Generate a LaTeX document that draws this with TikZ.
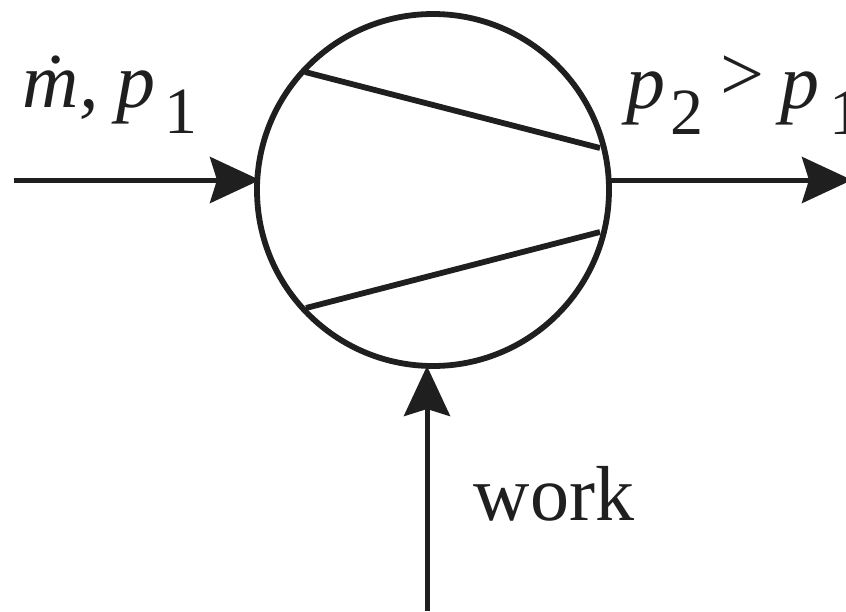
\documentclass[tikz,border=0pt]{standalone}
\usepackage{fontspec}
\setmainfont{Liberation Serif}
\usetikzlibrary{arrows.meta}
\newcommand{\subidx}[1]{\raisebox{-26pt}{\upshape\fontsize{66}{66}\selectfont #1}}
\begin{document}
\begin{tikzpicture}[
    x=1pt,y=-1pt,
    line join=round,
    line width=5.8pt,
    color=black!88,
    flow/.style={line width=5pt,-{Stealth[length=50pt,width=46pt,inset=7pt]},shorten >=-1pt},
    lbl/.style={inner sep=0pt,font=\fontsize{78}{78}\selectfont}
]
    \useasboundingbox (0,0) rectangle (846,611);
    \clip (0,0) rectangle (846,611);

    % compressor
    \coordinate (C) at (433,190);
    \node[circle,draw,minimum size=352pt,inner sep=0pt] (comp) at (C) {};
    \coordinate (inlet) at (14,180);
    \coordinate (outlet) at (851,180);
    \coordinate (shaft) at (427,611);

    % inner lines
    \draw (305,72) -- (600,148);
    \draw (306,308) -- (600,232);

    % flows
    \draw[flow] (inlet) -- (259,180);
    \draw[flow] (609,180) -- (outlet);
    \draw[flow] (shaft) -- (427,367);

    % labels
    \node[lbl,anchor=base west] (in) at (20,107) {\itshape\.m, \kern-2pt p\kern9pt\subidx{1}};
    \node[lbl,anchor=base west] (out) at (624,108) {\itshape p\kern5pt\subidx{2}\kern17pt\raisebox{8pt}{\upshape >}\kern16pt p\kern10pt\subidx{1}};
    \node[lbl,anchor=base west] (work) at (471,520) {work};
\end{tikzpicture}
\end{document}
